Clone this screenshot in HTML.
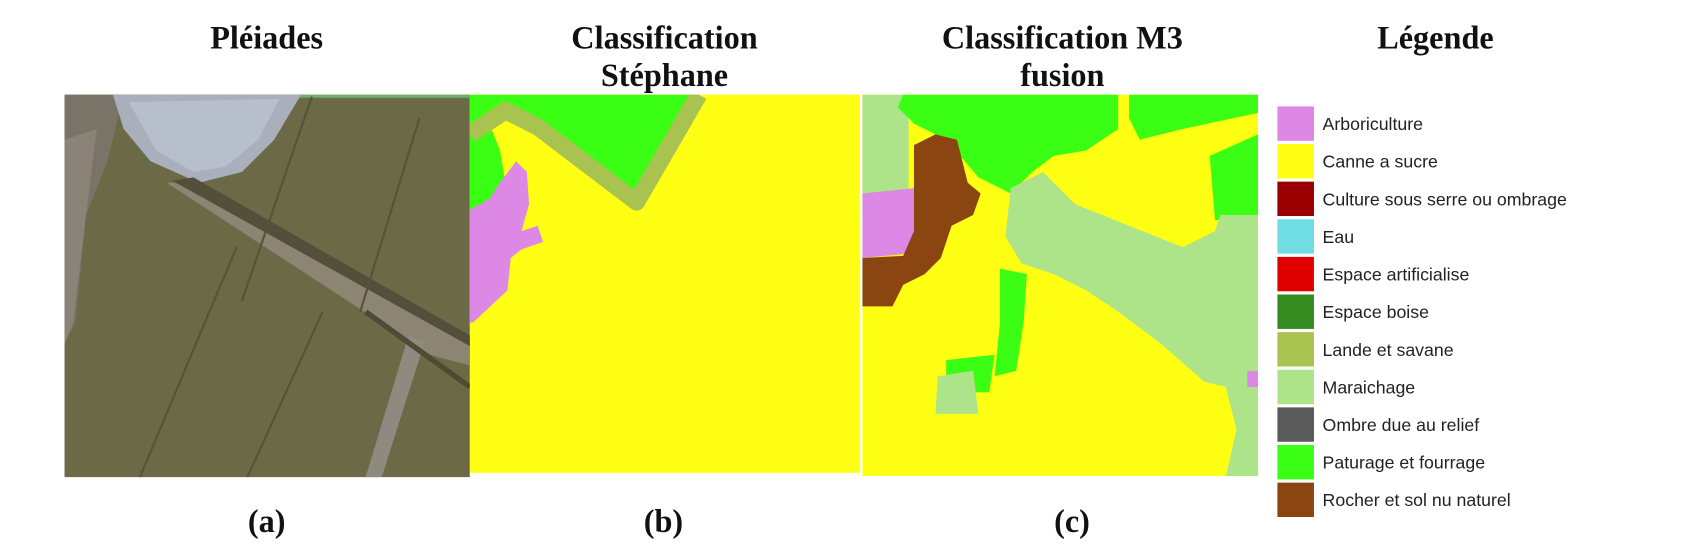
<!DOCTYPE html>
<html><head><meta charset="utf-8"><style>
html,body{margin:0;padding:0;background:#fff;}
svg{display:block;}
.t{font-family:"Liberation Serif",serif;font-weight:bold;font-size:30px;fill:#111;text-anchor:middle;}
.l{font-family:"Liberation Sans",sans-serif;font-size:16.5px;fill:#222;}
</style></head><body>
<svg width="1686" height="560" viewBox="0 0 1568 521" preserveAspectRatio="none">
<defs><clipPath id="legclip"><rect x="1180" y="80" width="314" height="420"/></clipPath>
<clipPath id="ca"><rect x="60" y="88" width="377" height="356"/></clipPath>
<clipPath id="cb"><rect x="437" y="88" width="363" height="352"/></clipPath>
<clipPath id="cc"><rect x="802" y="88" width="368" height="355"/></clipPath></defs>

<text class="t" x="248" y="45">Pléiades</text>
<text class="t" x="618" y="45"><tspan x="618">Classification</tspan><tspan x="618" dy="35">Stéphane</tspan></text>
<text class="t" x="988" y="45"><tspan x="988">Classification M3</tspan><tspan x="988" dy="35">fusion</tspan></text>
<text class="t" x="1335" y="45">Légende</text>

<!-- Panel a: satellite photo -->
<g clip-path="url(#ca)">
<rect x="60" y="88" width="377" height="356" fill="#6c6a46"/>
<rect x="60" y="88" width="377" height="3" fill="#6fb06a"/>
<polygon points="60,88 115,88 100,150 80,200 70,300 60,320" fill="#7a7468"/>
<polygon points="60,130 90,120 80,200 68,300 60,320" fill="#8b8378"/>
<polygon points="105,88 280,88 255,130 225,160 185,170 140,150 115,120" fill="#a9afbb"/>
<polygon points="120,95 260,92 240,130 210,155 180,160 145,140" fill="#b7bfcc"/>
<polygon points="155,170 185,170 437,318 437,340 400,330" fill="#8d8574"/>
<polygon points="160,168 180,165 437,312 437,322" fill="#544f3a"/>
<polygon points="380,312 395,318 355,444 340,444" fill="#8e8a80"/>
<line x1="290" y1="90" x2="225" y2="280" stroke="#55533a" stroke-width="2"/>
<line x1="390" y1="110" x2="335" y2="290" stroke="#55533a" stroke-width="2"/>
<line x1="220" y1="230" x2="130" y2="444" stroke="#55533a" stroke-width="2"/>
<line x1="300" y1="290" x2="230" y2="444" stroke="#55533a" stroke-width="2"/>
<line x1="340" y1="290" x2="437" y2="360" stroke="#4e4a36" stroke-width="5"/>
</g>

<!-- Panel b -->
<g clip-path="url(#cb)">
<rect x="437" y="88" width="363" height="352" fill="#ffff14"/>
<polygon points="437,88 650,88 600,185 500,110 470,100 437,115" fill="#3aff14"/>
<polygon points="437,125 455,115 465,140 470,170 455,200 437,215" fill="#3aff14"/>
<polyline points="437,125 470,103 500,118 592,188 650,88" fill="none" stroke="#a8c350" stroke-width="16" stroke-linejoin="round"/>
<polygon points="480,150 490,160 492,190 485,215 500,210 505,225 485,232 475,240 472,270 440,300 437,300 437,195 455,185 465,170" fill="#dc88e4"/>
</g>

<!-- Panel c -->
<g clip-path="url(#cc)">
<rect x="802" y="88" width="368" height="355" fill="#ffff14"/>
<polygon points="802,88 845,88 845,200 802,200" fill="#ade48a"/>
<polygon points="840,88 1040,88 1040,120 1010,140 980,145 960,160 940,180 910,165 880,130 850,115 835,100" fill="#3aff14"/>
<polygon points="1050,88 1170,88 1170,105 1100,120 1060,130 1050,110" fill="#3aff14"/>
<polygon points="1125,145 1170,125 1170,200 1130,205" fill="#3aff14"/>
<polygon points="940,175 970,160 1000,190 1050,210 1100,230 1130,215 1135,200 1165,200 1170,200 1170,360 1140,360 1120,355 1080,320 1040,290 1010,270 980,255 950,245 935,220" fill="#ade48a"/>
<polygon points="1140,360 1170,360 1170,443 1140,443 1150,400" fill="#ade48a"/>
<polygon points="802,180 850,175 855,235 802,240" fill="#dc88e4"/>
<polygon points="850,135 870,125 890,130 900,170 912,180 905,200 885,210 875,240 860,255 840,265 830,285 802,285 802,240 840,238 850,215" fill="#8a4510"/>
<polygon points="930,250 955,255 952,300 945,345 925,350 930,300" fill="#3aff14"/>
<polygon points="880,335 925,330 920,365 880,365" fill="#3aff14"/>
<polygon points="872,350 905,345 910,385 870,385" fill="#ade48a"/>
<polygon points="1160,345 1170,345 1170,360 1160,360" fill="#dc88e4"/>
</g>

<text class="t" x="248" y="495">(a)</text>
<text class="t" x="617" y="495">(b)</text>
<text class="t" x="997" y="495">(c)</text>

<g clip-path="url(#legclip)">
<g><rect x="1188" y="99" width="34" height="32" fill="#dc88e4"/><text class="l" x="1230" y="121">Arboriculture</text></g>
<g><rect x="1188" y="134" width="34" height="32" fill="#ffff14"/><text class="l" x="1230" y="156">Canne a sucre</text></g>
<g><rect x="1188" y="169" width="34" height="32" fill="#9b0000"/><text class="l" x="1230" y="191">Culture sous serre ou ombrage</text></g>
<g><rect x="1188" y="204" width="34" height="32" fill="#70dce4"/><text class="l" x="1230" y="226">Eau</text></g>
<g><rect x="1188" y="239" width="34" height="32" fill="#e00000"/><text class="l" x="1230" y="261">Espace artificialise</text></g>
<g><rect x="1188" y="274" width="34" height="32" fill="#358a20"/><text class="l" x="1230" y="296">Espace boise</text></g>
<g><rect x="1188" y="309" width="34" height="32" fill="#a8c350"/><text class="l" x="1230" y="331">Lande et savane</text></g>
<g><rect x="1188" y="344" width="34" height="32" fill="#ade48a"/><text class="l" x="1230" y="366">Maraichage</text></g>
<g><rect x="1188" y="379" width="34" height="32" fill="#5a5a5a"/><text class="l" x="1230" y="401">Ombre due au relief</text></g>
<g><rect x="1188" y="414" width="34" height="32" fill="#3aff14"/><text class="l" x="1230" y="436">Paturage et fourrage</text></g>
<g><rect x="1188" y="449" width="34" height="32" fill="#8a4510"/><text class="l" x="1230" y="471">Rocher et sol nu naturel</text></g>
</g>
</svg>
</body></html>
